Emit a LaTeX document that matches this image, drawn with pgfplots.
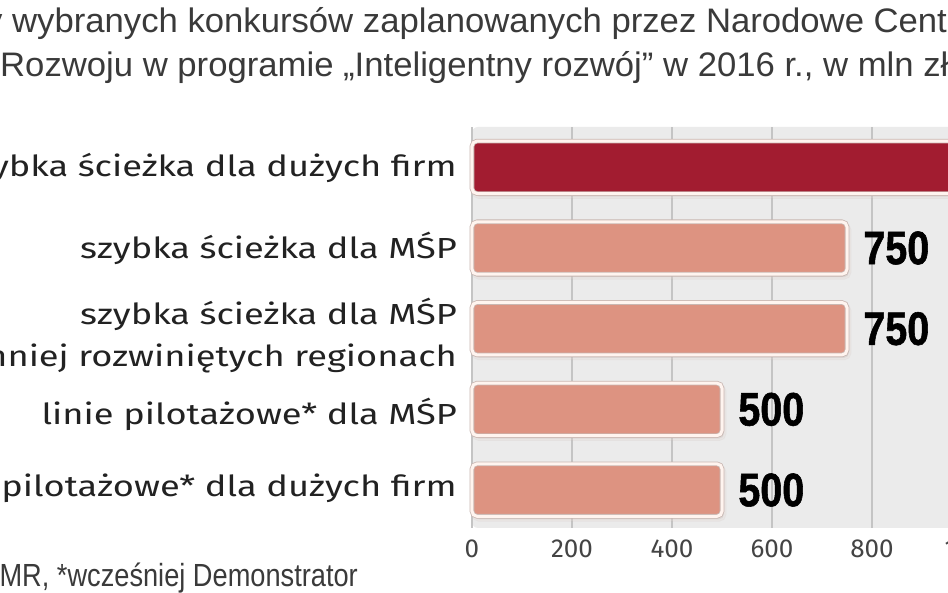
\documentclass[border=0pt]{standalone}
\usepackage{fontspec}
\setmainfont{Fira Sans}
\newfontfamily\labfont[FakeStretch=1.25]{Fira Sans}
\newfontfamily\titlefont[FakeStretch=1.02]{Liberation Sans}
\newfontfamily\footfont[FakeStretch=0.85]{Liberation Sans}
\newfontfamily\valfont[FakeStretch=0.84, FakeBold=1.2]{Liberation Sans}
\usepackage{pgfplots}
\pgfplotsset{compat=1.18}
\usetikzlibrary{shadows}
\definecolor{panel}{HTML}{EBEBEB}
\definecolor{gridc}{HTML}{C4C4C4}
\definecolor{darkred}{HTML}{A21C30}
\definecolor{salmon}{HTML}{DD9381}
\definecolor{outl}{HTML}{C9B7B2}
\definecolor{cream}{HTML}{FFF4EF}
\definecolor{titlec}{HTML}{3A3A3A}
\definecolor{labc}{HTML}{222222}
\definecolor{tickc}{HTML}{444444}
\tikzset{lab/.style={anchor=base east, inner sep=0pt, xshift=-15pt, text=labc, font=\labfont\fontsize{29}{34}\selectfont}}
\begin{document}
\begin{tikzpicture}
\useasboundingbox (0,0) rectangle (948pt,593pt);
\clip (0,0) rectangle (948pt,593pt);
\fill[white] (0,0) rectangle (948pt,593pt);
% title
\node[anchor=base west, inner sep=0pt, text=titlec, font=\titlefont\fontsize{34}{40}\selectfont] at (12pt,560pt)
  {\llap{Budżety }wybranych konkursów zaplanowanych przez Narodowe Centrum Badań i};
\node[anchor=base west, inner sep=0pt, text=titlec, font=\titlefont\fontsize{34}{40}\selectfont] at (0pt,516pt)
  {Rozwoju w programie „Inteligentny rozwój” w 2016 r., w mln zł};
% footer
\node[anchor=base east, inner sep=0pt, text=titlec, font=\footfont\fontsize{32}{36}\selectfont] at (358pt,6pt)
  {Źródło: MR, *wcześniej Demonstrator};
\begin{axis}[
  at={(472pt,65pt)}, anchor=south west,
  scale only axis, width=550pt, height=401pt,
  xmin=0, xmax=1100, ymin=-0.47, ymax=4.5,
  xbar, bar width=0.65, bar shift=0pt,
  axis background/.style={fill=panel, rounded corners=6pt},
  axis line style={draw=none},
  major tick length=0pt,
  xtick={0,200,...,1000},
  ytick=\empty,
  xmajorgrids, grid style={draw=gridc, line width=1.2pt},
  /pgf/number format/assume math mode=true,
  /pgf/number format/1000 sep={},
  xticklabel style={font=\fontsize{26}{30}\selectfont, text=tickc, inner sep=0pt, yshift=-12pt},
  clip=false,
]
\addplot[fill=darkred, draw=outl, double=cream, double distance=3pt, line width=0.8pt, rounded corners=5pt,
  drop shadow={opacity=0.18, shadow xshift=2pt, shadow yshift=-3pt}]
  coordinates {(1000,4)};
\addplot[fill=salmon, draw=outl, double=cream, double distance=3pt, line width=0.8pt, rounded corners=5pt,
  drop shadow={opacity=0.18, shadow xshift=2pt, shadow yshift=-3pt},
  point meta=x, nodes near coords,
  nodes near coords style={font=\valfont\bfseries\fontsize{47}{50}\selectfont, anchor=west, inner sep=0pt, xshift=16pt, text=black}]
  coordinates {(750,3) (750,2) (500,1) (500,0)};
\node[lab, yshift=-9.6pt] at (axis cs:0,4) {szybka ścieżka dla dużych firm};
\node[lab, yshift=-10pt] at (axis cs:0,3) {szybka ścieżka dla MŚP};
\node[lab, yshift=4.4pt] at (axis cs:0,2) {szybka ścieżka dla MŚP};
\node[lab, yshift=-37.6pt] at (axis cs:0,2) {w mniej rozwiniętych regionach};
\node[lab, yshift=-15.6pt] at (axis cs:0,1) {linie pilotażowe* dla MŚP};
\node[lab, yshift=-6.9pt] at (axis cs:0,0) {linie pilotażowe* dla dużych firm};
\end{axis}
\end{tikzpicture}
\end{document}
